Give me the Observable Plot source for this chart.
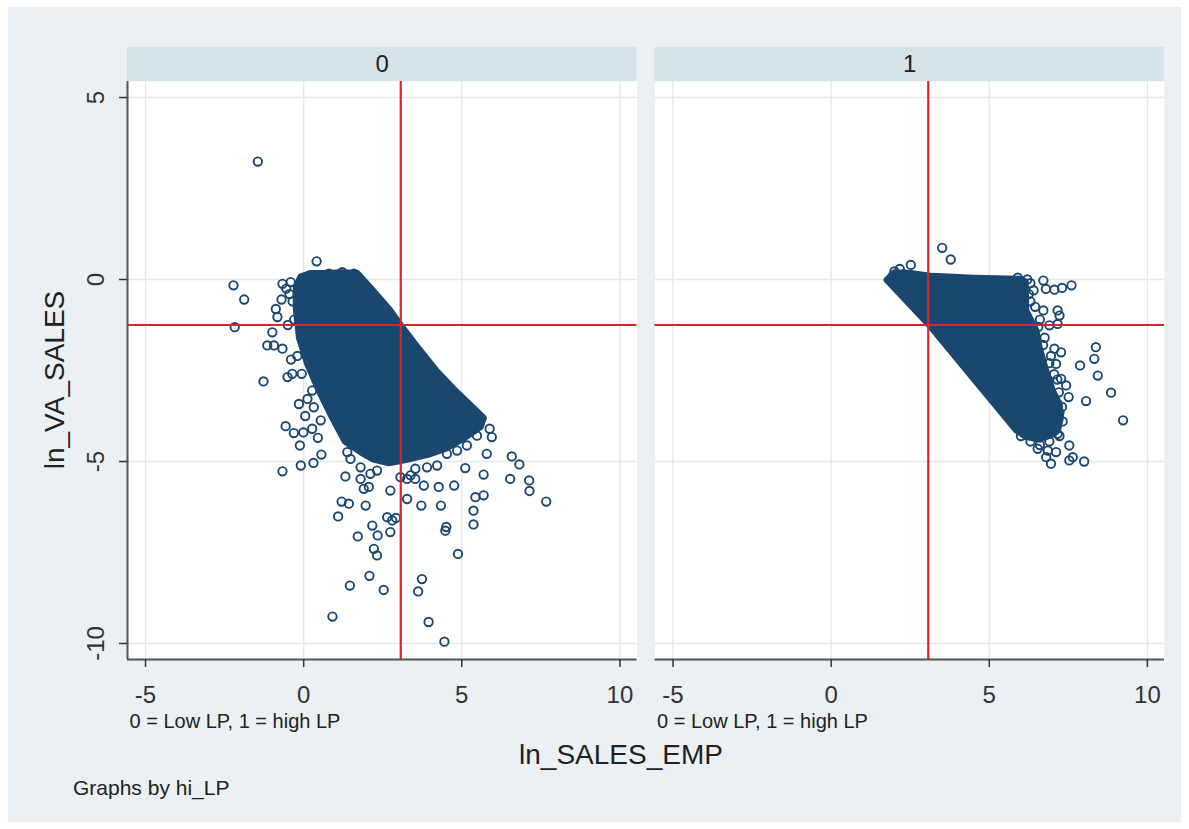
<!DOCTYPE html>
<html>
<head>
<meta charset="utf-8">
<script src="https://cdn.jsdelivr.net/npm/d3@7"></script>
<script src="https://cdn.jsdelivr.net/npm/@observablehq/plot@0.6"></script>
<style>
  html, body { margin: 0; padding: 0; background: #ffffff; }
  #wrap { position: relative; width: 1189px; height: 829px; overflow: hidden; font-family: "Liberation Sans", Arial, sans-serif; color: #222; }
  #bg { position: absolute; left: 8px; top: 7px; width: 1173px; height: 815px; background: #eaf0f3; }
  #chart { position: absolute; left: 0; top: 0; }
  .lbl { position: absolute; white-space: nowrap; line-height: 1; }
</style>
</head>
<body>
<div id="wrap">
  <div id="bg"></div>
  <div id="chart"></div>
  <div class="lbl" id="ytitle" style="font-size:28px; width:300px; height:28px; left:-95px; top:366px; text-align:center; transform:rotate(-90deg); transform-origin:150px 14px;">ln_VA_SALES</div>
  <div class="lbl" style="font-size:28px; width:400px; left:421px; top:741px; text-align:center;">ln_SALES_EMP</div>
  <div class="lbl" style="font-size:21px; left:73px; top:777px;">Graphs by hi_LP</div>
</div>
<script>
// ---- data ----
const panels = [0, 1];
const xTicks = [-5, 0, 5, 10];
const yTicks = [-10, -5, 0, 5];
const cutX = 3.07;   // vertical red reference line (ln_SALES_EMP)
const cutY = -1.25;  // horizontal red reference line (ln_VA_SALES)
const noteText = "0 = Low LP, 1 = high LP";

// dense cloud outline, panel 0
const mass0X = [-0.10, 0.20, 0.60, 1.20, 1.70, 2.20, 2.70, 3.08, 3.60, 4.20, 4.80, 5.40, 5.70, 5.60, 5.10, 4.50, 4.00, 3.30, 2.70, 2.20, 1.80, 1.30, 0.90, 0.50, 0.10, -0.15, -0.25, -0.25];
const mass0Y = [0.08, 0.18, 0.18, 0.20, 0.18, -0.30, -0.80, -1.26, -1.85, -2.50, -3.05, -3.55, -3.80, -4.05, -4.35, -4.65, -4.80, -4.95, -5.05, -4.95, -4.75, -4.45, -3.80, -3.10, -2.30, -1.60, -0.80, -0.20];
// dense cloud outline, panel 1
const mass1X = [1.75, 2.00, 2.50, 3.20, 4.50, 6.00, 6.15, 6.17, 6.49, 6.59, 6.80, 7.01, 7.22, 7.27, 7.17, 7.01, 6.59, 6.17, 5.85, 3.08];
const mass1Y = [-0.01, 0.20, 0.18, 0.10, 0.05, 0.02, -0.05, -0.85, -1.40, -1.86, -2.50, -3.05, -3.42, -3.78, -4.15, -4.26, -4.40, -4.33, -4.15, -1.24];

// individual observations, panel 0
const pts0X = [-1.45, 0.41, -2.22, -1.88, -2.18, -1.27, -0.67, -0.57, -0.09, 0.31, 0.56, -0.12,
  0.91, 1.46, 2.08, 2.53, 1.71, 2.22, 2.32, 2.34, 2.17, 1.09, 1.20, 1.43, 2.64, 2.80, 2.92, 2.74,
  3.74, 3.62, 3.95, 4.45, 4.88, 4.48, 4.51, 5.37, 5.37, 5.43, 5.69, 3.72, 4.34, 3.27, 3.80, 4.27,
  4.76, 5.69, 5.11, 6.53, 6.58, 6.82, 7.13, 7.14, 7.67, 5.79, 5.95, 5.88, 1.32, 1.80, 1.90, 2.06,
  1.96, 3.27, 3.53,
  -0.67, -0.41, -0.88, -0.83, -0.99, -1.15, -0.94, -0.67, -0.51, -0.36, -0.06, -0.15, 0.12, -0.31,
  -0.01, 0.27, 0.54, 0.32, 0.27, 0.80, 1.22, 1.59,
  1.38, 1.48, 1.80, 2.11, 2.32, 2.74, 3.06, 3.38, 3.53, 3.90, 4.22, 4.53, 4.85, 5.16, 5.48,
  -0.55, -0.45, -0.35, -0.70, -0.30, -0.50, -0.20, -0.40, 0.05, 0.45];
const pts0Y = [3.24, 0.50, -0.16, -0.55, -1.31, -2.80, -5.27, -4.03, -5.11, -5.04, -4.81, -4.56,
  -9.26, -8.41, -8.14, -8.53, -7.06, -7.40, -7.58, -7.03, -6.76, -6.51, -6.10, -6.16, -6.53, -6.62, -6.55, -6.94,
  -8.23, -8.57, -9.41, -9.95, -7.54, -6.90, -6.80, -6.73, -6.35, -5.98, -5.93, -6.21, -6.21, -6.03, -5.66, -5.70,
  -5.66, -5.36, -5.18, -5.48, -4.86, -5.08, -5.52, -5.81, -6.10, -4.79, -4.33, -4.10, -5.41, -5.48, -5.75, -5.70,
  -6.21, -5.48, -5.48,
  -0.12, -0.07, -0.81, -1.03, -1.45, -1.81, -1.81, -1.90, -2.68, -2.59, -2.59, -3.42, -3.28, -4.22,
  -4.20, -4.10, -3.87, -3.51, -3.05, 0.16, 0.20, 0.16,
  -4.74, -4.93, -5.16, -5.34, -5.25, -5.80, -5.43, -5.38, -5.20, -5.16, -5.11, -4.79, -4.70, -4.56, -4.29,
  -0.25, -0.40, -0.60, -0.55, -1.10, -1.25, -2.10, -2.20, -3.75, -4.35];

// individual observations, panel 1
const pts1X = [3.51, 3.78, 2.52, 2.17, 6.71, 6.79, 7.06, 7.30, 7.60, 6.71, 7.16, 7.22, 6.90, 7.16,
  7.06, 7.27, 8.37, 8.32, 8.43, 7.87, 8.85, 8.06, 9.23, 7.27, 7.43, 7.51, 7.11, 7.16, 7.22,
  7.53, 7.64, 7.53, 8.00, 6.95, 6.80, 6.53, 6.85, 7.11, 7.16, 7.00,
  6.40, 6.30, 6.60, 6.75, 6.95, 7.15, 6.30, 6.00, 2.00, 2.30, 5.90, 6.20,
  6.30, 6.25, 6.45, 6.55, 6.70, 6.90, 7.05, 7.20, 7.30, 7.32, 7.22, 6.90, 6.60, 1.95, 2.20];
const pts1Y = [0.87, 0.55, 0.40, 0.29, -0.03, -0.26, -0.28, -0.23, -0.16, -0.85, -0.85, -0.99, -1.26, -1.22,
  -1.90, -2.00, -1.86, -2.18, -2.64, -2.36, -3.11, -3.34, -3.87, -2.73, -2.91, -3.23, -2.32, -3.42, -3.65,
  -4.56, -4.88, -4.97, -5.00, -5.06, -4.88, -4.65, -4.70, -4.74, -4.24, -4.15,
  -0.30, -0.60, -1.10, -1.60, -2.10, -2.75, -4.45, -4.30, 0.22, 0.15, 0.05, 0.00,
  -0.10, -0.40, -0.75, -1.30, -1.80, -2.30, -2.60, -3.10, -3.50, -3.90, -4.30, -4.45, -4.55, 0.10, 0.05];

// ---- tables built from the arrays ----
const panelRows = panels.map(p => ({p}));
const massRows = [
  ...mass0X.map((x, i) => ({p: 0, x, y: mass0Y[i]})),
  ...mass1X.map((x, i) => ({p: 1, x, y: mass1Y[i]}))
];
const ptRows = [
  ...pts0X.map((x, i) => ({p: 0, x, y: pts0Y[i]})),
  ...pts1X.map((x, i) => ({p: 1, x, y: pts1Y[i]}))
];

// ---- styling ----
const navy = "#1a476f";
const red = "#e0202a";
const headerFill = "#d6e3e9";
const gridColor = "#e4eaec";
const axisColor = "#555";
const XMIN = -5.57, XMAX = 10.54, YMIN = -10.44, YMAX = 5.44;
const fmt = d => String(d);

const chart = Plot.plot({
  width: 1189,
  height: 829,
  marginLeft: 127,
  marginRight: 25,
  marginTop: 81,
  marginBottom: 170,
  style: {background: "transparent", fontFamily: "'Liberation Sans', Arial, sans-serif", color: "#222"},
  x: {domain: [XMIN, XMAX]},
  y: {domain: [YMIN, YMAX]},
  fx: {domain: panels, paddingInner: 0.0341, paddingOuter: 0, round: false, axis: null},
  marks: [
    Plot.frame({fill: "white", stroke: "none"}),
    Plot.rect(panelRows, {fx: "p", x1: () => XMIN, x2: () => XMAX, y1: () => YMAX, y2: () => YMAX, insetTop: -34, fill: headerFill}),
    Plot.text(panelRows, {fx: "p", frameAnchor: "top", dy: -17, lineAnchor: "middle", text: d => String(d.p), fontSize: 24, fill: "#222"}),
    Plot.gridX({ticks: xTicks, stroke: gridColor, strokeOpacity: 1, strokeWidth: 1.4}),
    Plot.gridY({ticks: yTicks, stroke: gridColor, strokeOpacity: 1, strokeWidth: 1.4}),
    Plot.line(massRows, {x: "x", y: "y", fx: "p", z: "p", curve: "linear-closed", fill: navy, stroke: navy, strokeWidth: 6, strokeLinejoin: "round"}),
    Plot.dot(ptRows, {x: "x", y: "y", fx: "p", r: 4.2, stroke: navy, strokeWidth: 1.9, fill: "none"}),
    Plot.ruleX([cutX], {stroke: red, strokeWidth: 2.2}),
    Plot.ruleY([cutY], {stroke: red, strokeWidth: 2.2}),
    Plot.ruleY([YMIN], {stroke: axisColor, strokeWidth: 2}),
    Plot.ruleX([{p: 0, x: XMIN}], {x: "x", fx: "p", stroke: axisColor, strokeWidth: 2}),
    Plot.axisX({ticks: xTicks, tickFormat: fmt, tickSize: 8, tickPadding: 18, fontSize: 24, label: null, color: "#333", strokeWidth: 1.5}),
    Plot.axisY({ticks: yTicks, tickFormat: fmt, tickSize: 8, tickPadding: 16, tickRotate: -90, fontSize: 24, label: null, color: "#333", strokeWidth: 1.5}),
    Plot.text(panelRows, {fx: "p", frameAnchor: "bottom-left", dx: 2, dy: 68, lineAnchor: "bottom", textAnchor: "start", text: () => noteText, fontSize: 20, fill: "#222"})
  ]
});
document.getElementById("chart").appendChild(chart);
</script>
</body>
</html>
